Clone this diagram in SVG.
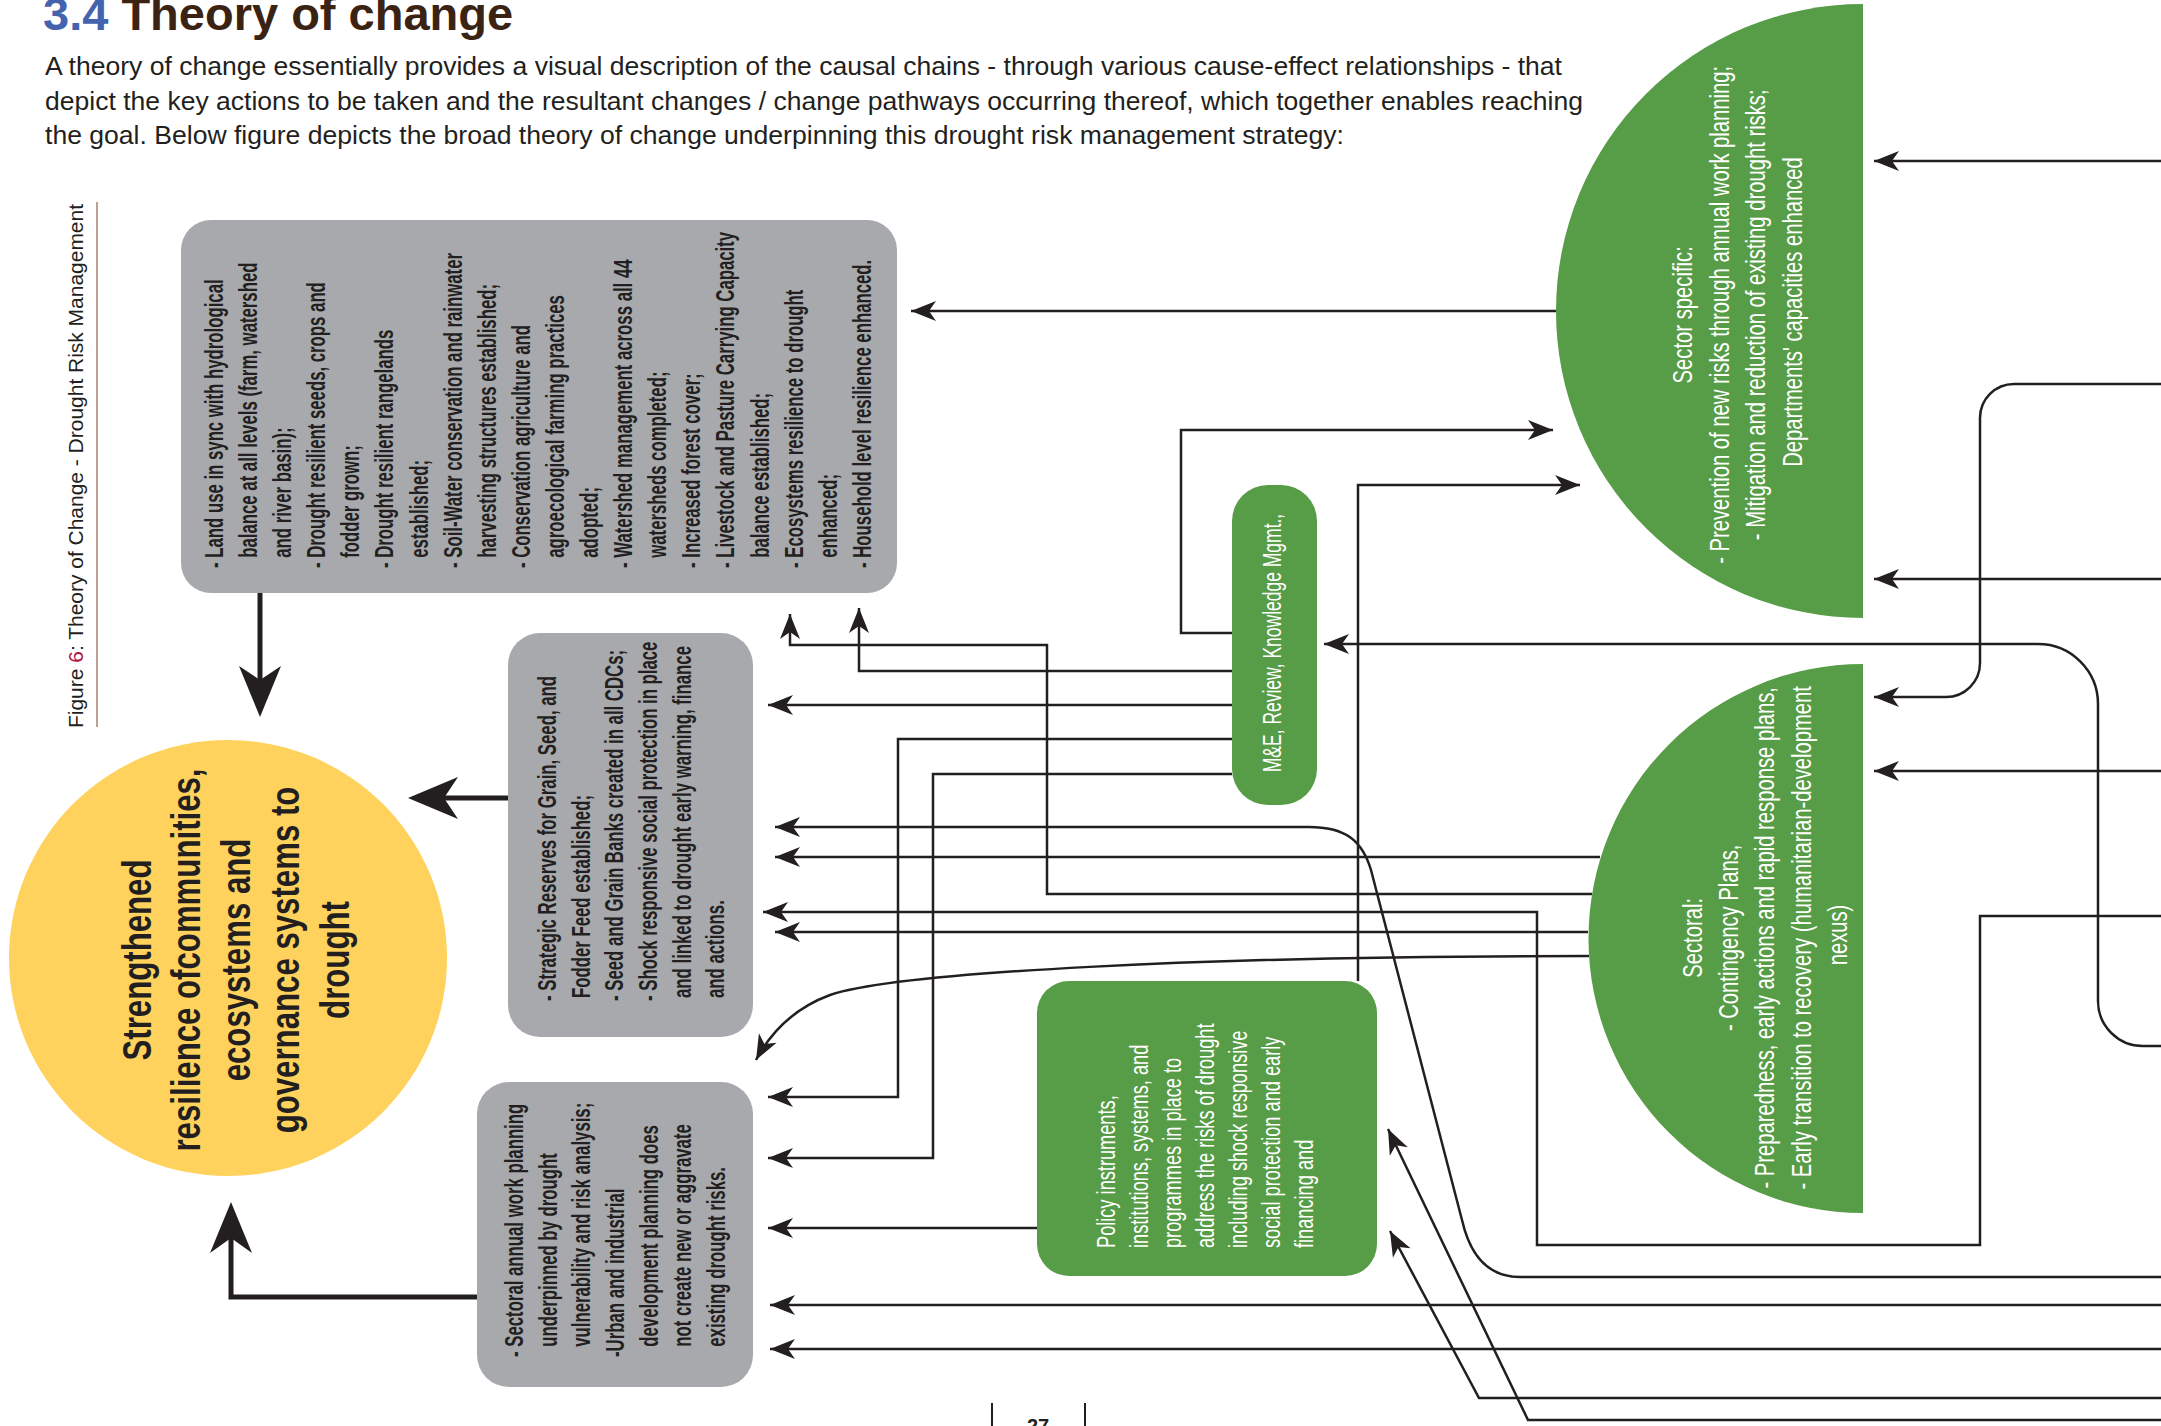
<svg xmlns="http://www.w3.org/2000/svg" width="2161" height="1426" viewBox="0 0 2161 1426">
  <style>
    .conn { fill: none; stroke: #231F20; stroke-width: 2.5; }
    .arr { marker-end: url(#ah); }
    .thick { fill: none; stroke: #231F20; stroke-width: 5; }
    .head { fill: #231F20; }
    .gbox { fill: #A7A9AC; }
    .green { fill: #579C46; }
    .goal { fill: #FED25C; }
    .tg { font-family: "Liberation Sans", Arial, sans-serif; font-weight: bold; font-size: 26px; fill: #231F20; }
    .tw { font-family: "Liberation Sans", Arial, sans-serif; fill: #FFFFFF; }
    .body { font-family: "Liberation Sans", Arial, sans-serif; font-size: 25px; fill: #231F20; }
  </style>
  <defs>
    <marker id="ah" viewBox="-26 -11 27 22" refX="0" refY="0" markerWidth="27" markerHeight="22" markerUnits="userSpaceOnUse" orient="auto">
      <path d="M0,0 L-25,-10 L-18,0 L-25,10 Z" fill="#231F20"/>
    </marker>
  </defs>
  <rect width="2161" height="1426" fill="#FFFFFF"/>

  <!-- heading and intro paragraph -->
  <g id="heading">
    <text x="43" y="30" font-family="Liberation Sans, Arial, sans-serif" font-weight="bold" font-size="47"><tspan fill="#4463AE">3.4</tspan><tspan fill="#3B2314"> Theory of change</tspan></text>
    <text class="body" x="45" y="75" textLength="1517" lengthAdjust="spacingAndGlyphs">A theory of change essentially provides a visual description of the causal chains - through various cause-effect relationships - that</text>
    <text class="body" x="45" y="109.5" textLength="1538" lengthAdjust="spacingAndGlyphs">depict the key actions to be taken and the resultant changes / change pathways occurring thereof, which together enables reaching</text>
    <text class="body" x="45" y="144" textLength="1299" lengthAdjust="spacingAndGlyphs">the goal. Below figure depicts the broad theory of change underpinning this drought risk management strategy:</text>
  </g>

  <!-- side caption -->
  <g id="caption">
    <text transform="translate(83,728) rotate(-90)" font-family="Liberation Sans, Arial, sans-serif" font-size="21" fill="#231F20" textLength="524" lengthAdjust="spacingAndGlyphs">Figure <tspan fill="#B3133F">6</tspan>: Theory of Change - Drought Risk Management</text>
    <line x1="97" y1="202" x2="97" y2="727" stroke="#BCA294" stroke-width="2"/>
  </g>

  <!-- connectors -->
  <g id="connectors">
    <!-- feeds from the right margin -->
    <path class="conn arr" d="M2161,161 H1874"/>
    <path class="conn arr" d="M2161,384 H2014 A34,34 0 0 0 1980,418 V663 A34,34 0 0 1 1946,697 H1874"/>
    <path class="conn arr" d="M2161,579 H1874"/>
    <path class="conn arr" d="M2161,771 H1874"/>
    <path class="conn arr" d="M2161,1046 H2143 A45,45 0 0 1 2098,1001 V704 A60,60 0 0 0 2038,644 H1324"/>
    <path class="conn arr" d="M2161,916 H1980 V1245 H1537 V912 H763"/>
    <path class="conn arr" d="M2161,1277 H1520 C1488,1277 1470,1255 1462,1220 L1371,870 C1362,840 1345,827 1309,827 H775"/>
    <path class="conn arr" d="M2161,1305 H770"/>
    <path class="conn arr" d="M2161,1349 H770"/>
    <path class="conn arr" d="M2161,1398 H1479 L1390,1231"/>
    <path class="conn arr" d="M2161,1420 H1528 L1388,1129"/>
    <!-- sector specific to land/ecosystem outcomes -->
    <path class="conn arr" d="M1557,311 H911"/>
    <!-- M&E links -->
    <path class="conn arr" d="M1232,633 H1181 V430 H1553"/>
    <path class="conn arr" d="M1232,671 H859 V608"/>
    <path class="conn arr" d="M1232,705 H768"/>
    <path class="conn arr" d="M1232,739 H898 V1097 H768"/>
    <path class="conn arr" d="M1232,774 H933 V1158 H768"/>
    <!-- policy box links -->
    <path class="conn arr" d="M1358,981 V485 H1580"/>
    <path class="conn arr" d="M1037,1228 H768"/>
    <!-- sectoral links -->
    <path class="conn arr" d="M1600,857 H775"/>
    <path class="conn arr" d="M1592,894 H1047 V645 H790 V614"/>
    <path class="conn arr" d="M1588,932 H775"/>
    <path class="conn arr" d="M1589,956 C1200,956 900,972 830,995 C795,1008 772,1030 756,1060"/>
    <!-- outcomes to goal -->
    <line class="thick" x1="260" y1="593" x2="260" y2="682"/>
    <polygon class="head" points="260,717 239,666 260,680 281,666"/>
    <line class="thick" x1="508" y1="798" x2="444" y2="798"/>
    <polygon class="head" points="408,798 458,777 444,798 458,819"/>
    <polyline class="thick" points="477,1297 231,1297 231,1238"/>
    <polygon class="head" points="231,1202 210,1253 231,1238 252,1253"/>
  </g>

  <!-- goal -->
  <g id="goal">
    <ellipse class="goal" cx="228" cy="958" rx="219" ry="218"/>
    <g transform="translate(151,960) rotate(-90) scale(0.78,1)" font-family="Liberation Sans, Arial, sans-serif" font-weight="bold" font-size="40" fill="#231F20" text-anchor="middle">
      <text x="0" y="0">Strengthened</text>
      <text x="0" y="49.5">resilience ofcommunities,</text>
      <text x="0" y="99">ecosystems and</text>
      <text x="0" y="148.5">governance systems to</text>
      <text x="0" y="198">drought</text>
    </g>
  </g>

  <!-- landscape / ecosystem outcomes -->
  <g id="outcome-land">
    <rect class="gbox" x="181" y="220" width="716" height="373" rx="30"/>
    <g transform="translate(223,568) rotate(-90) scale(0.645,1)">
      <text class="tg">
        <tspan x="0" y="0">- Land use in sync with hydrological</tspan>
        <tspan x="15.9" y="34.1">balance at all levels (farm, watershed</tspan>
        <tspan x="15.9" y="68.2">and river basin);</tspan>
        <tspan x="0" y="102.3">- Drought resilient seeds, crops and</tspan>
        <tspan x="15.9" y="136.4">fodder grown;</tspan>
        <tspan x="0" y="170.5">- Drought resilient rangelands</tspan>
        <tspan x="15.9" y="204.6">established;</tspan>
        <tspan x="0" y="238.7">- Soil-Water conservation and rainwater</tspan>
        <tspan x="15.9" y="272.8">harvesting structures established;</tspan>
        <tspan x="0" y="306.9">- Conservation agriculture and</tspan>
        <tspan x="15.9" y="341">agroecological farming practices</tspan>
        <tspan x="15.9" y="375.1">adopted;</tspan>
        <tspan x="0" y="409.2">- Watershed management across all 44</tspan>
        <tspan x="15.9" y="443.3">watersheds completed;</tspan>
        <tspan x="0" y="477.4">- Increased forest cover;</tspan>
        <tspan x="0" y="511.5">- Livestock and Pasture Carrying Capacity</tspan>
        <tspan x="15.9" y="545.6">balance established;</tspan>
        <tspan x="0" y="579.7">- Ecosystems resilience to drought</tspan>
        <tspan x="15.9" y="613.8">enhanced;</tspan>
        <tspan x="0" y="647.9">- Household level resilience enhanced.</tspan>
      </text>
    </g>
  </g>

  <!-- reserves and social protection outcomes -->
  <g id="outcome-reserves">
    <rect class="gbox" x="508" y="633" width="245" height="404" rx="32"/>
    <g transform="translate(556,1001) rotate(-90) scale(0.645,1)">
      <text class="tg">
        <tspan x="0" y="0">- Strategic Reserves for Grain, Seed, and</tspan>
        <tspan x="4.7" y="33.7">Fodder Feed established;</tspan>
        <tspan x="0" y="67.4">- Seed and Grain Banks created in all CDCs;</tspan>
        <tspan x="0" y="101.1">- Shock responsive social protection in place</tspan>
        <tspan x="4.7" y="134.8">and linked to drought early warning, finance</tspan>
        <tspan x="4.7" y="168.5">and actions.</tspan>
      </text>
    </g>
  </g>

  <!-- planning outcomes -->
  <g id="outcome-planning">
    <rect class="gbox" x="477" y="1082" width="276" height="305" rx="32"/>
    <g transform="translate(523,1357) rotate(-90) scale(0.645,1)">
      <text class="tg">
        <tspan x="0" y="0">- Sectoral annual work planning</tspan>
        <tspan x="15.9" y="33.7">underpinned by drought</tspan>
        <tspan x="15.9" y="67.4">vulnerability and risk analysis;</tspan>
        <tspan x="0" y="101.1">-Urban and industrial</tspan>
        <tspan x="15.9" y="134.8">development planning does</tspan>
        <tspan x="15.9" y="168.5">not create new or aggravate</tspan>
        <tspan x="15.9" y="202.2">existing drought risks.</tspan>
      </text>
    </g>
  </g>

  <!-- monitoring and learning -->
  <g id="mel">
    <rect class="green" x="1232" y="485" width="85" height="320" rx="36"/>
    <text class="tw" transform="translate(1281,643) rotate(-90) scale(0.66,1)" font-size="26.5" text-anchor="middle">M&amp;E, Review, Knowledge Mgmt.,</text>
  </g>

  <!-- policy and institutions -->
  <g id="policy">
    <rect class="green" x="1037" y="981" width="340" height="295" rx="32"/>
    <g transform="translate(1115,1248) rotate(-90) scale(0.70,1)">
      <text class="tw" font-size="26">
        <tspan x="0" y="0">Policy instruments,</tspan>
        <tspan x="0" y="33">institutions, systems, and</tspan>
        <tspan x="0" y="66">programmes in place to</tspan>
        <tspan x="0" y="99">address the risks of drought</tspan>
        <tspan x="0" y="132">including shock responsive</tspan>
        <tspan x="0" y="165">social protection and early</tspan>
        <tspan x="0" y="198">financing and</tspan>
      </text>
    </g>
  </g>

  <!-- sector specific plans -->
  <g id="sector-specific">
    <path class="green" d="M1863,4 A307,307 0 0 0 1863,618 Z"/>
    <g transform="translate(1692,312) rotate(-90) scale(0.71,1)">
      <text class="tw" font-size="28.5" text-anchor="middle">
        <tspan x="0" y="0">Sector specific:</tspan>
        <tspan x="0" y="36.7">- Prevention of new risks through annual work planning;</tspan>
        <tspan x="0" y="73.4">- Mitigation and reduction of existing drought risks;</tspan>
        <tspan x="0" y="110.1">Departments' capacities enhanced</tspan>
      </text>
    </g>
  </g>

  <!-- sectoral contingency plans -->
  <g id="sectoral">
    <path class="green" d="M1863,664 A274.5,274.5 0 0 0 1863,1213 Z"/>
    <g transform="translate(1702,935) rotate(-90) scale(0.71,1)">
      <text class="tw" font-size="28.5" text-anchor="middle">
        <tspan x="0" y="0">Sectoral:</tspan>
        <tspan x="0" y="36.2">- Contingency Plans,</tspan>
        <tspan x="0" y="72.4">- Preparedness, early actions and rapid response plans,</tspan>
        <tspan x="0" y="108.6">- Early transition to recovery (humanitarian-development</tspan>
        <tspan x="0" y="144.8">nexus)</tspan>
      </text>
    </g>
  </g>

  <!-- folio -->
  <g id="folio">
    <line x1="992" y1="1403" x2="992" y2="1426" stroke="#231F20" stroke-width="2"/>
    <line x1="1085" y1="1403" x2="1085" y2="1426" stroke="#231F20" stroke-width="2"/>
    <text x="1038" y="1433" font-family="Liberation Sans, Arial, sans-serif" font-weight="bold" font-size="20" fill="#231F20" text-anchor="middle">27</text>
  </g>
</svg>
